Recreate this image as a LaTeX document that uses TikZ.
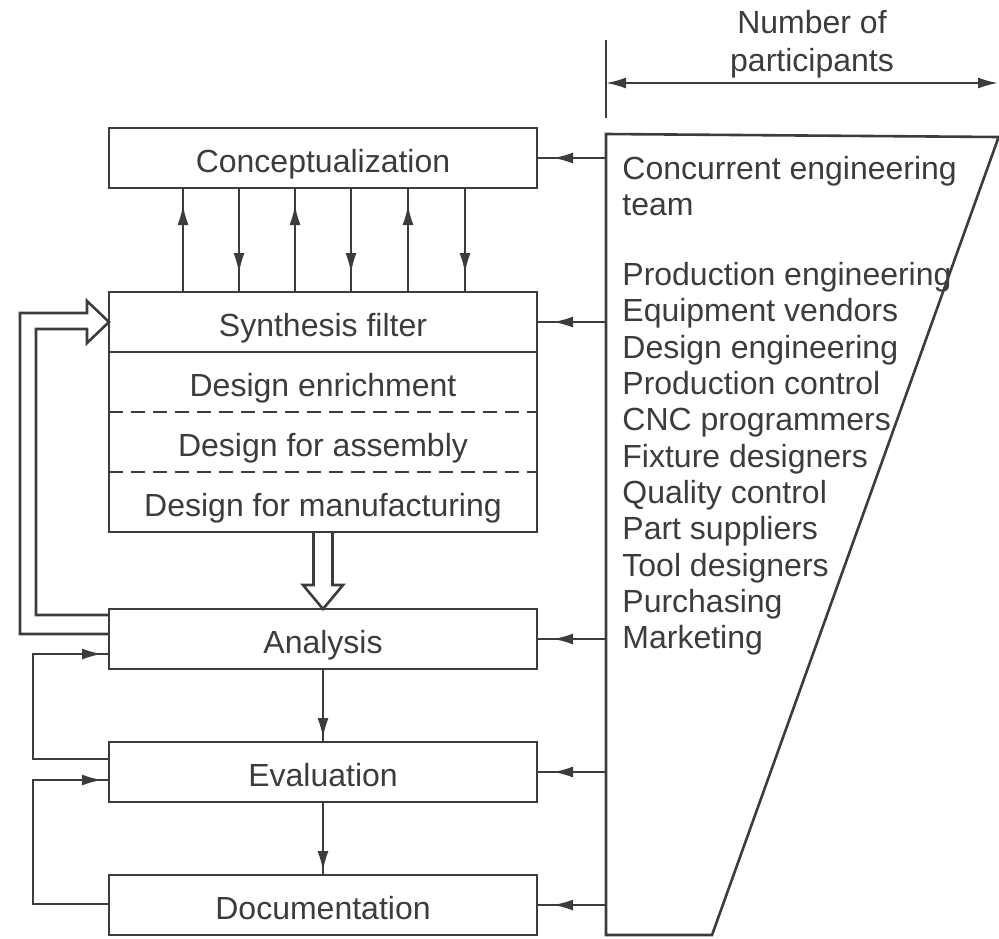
\documentclass[tikz,border=0pt]{standalone}
\usepackage{fontspec}
\setmainfont{Liberation Sans}
\usetikzlibrary{arrows.meta,positioning,calc,decorations.markings}
\definecolor{InkGray}{RGB}{60,60,60}

\begin{document}
\begin{tikzpicture}[x=0.5pt, y=-0.5pt,
    stage/.style={draw=InkGray, line width=1.3pt, minimum width=214pt, minimum height=30pt, inner sep=0pt, outer sep=0pt, text=InkGray, text height=15pt, text depth=1pt, font=\fontsize{16}{18}\selectfont},
    sub/.style={stage, draw=none},
    link/.style={InkGray, line width=1pt},
    headat/.style={link, postaction={decorate}, decoration={markings, mark=at position #1 with {\arrow{Latex[length=10pt,width=5.5pt]}}}},
    hollow/.style={draw=InkGray, line width=1.3pt, line join=miter},
    roster/.style={text=InkGray, font=\fontsize{16}{18.15}\selectfont, align=left, inner sep=0pt}
  ]
    \useasboundingbox (0,0) rectangle (999,938);

    % Process stages (left column)
    \node[stage] (concept) at (323,158) {Conceptualization};
    \node[stage, below=52pt of concept] (synth) {Synthesis filter};
    \node[sub, below=0pt of synth] (enrich) {Design enrichment};
    \node[sub, below=0pt of enrich] (assembly) {Design for assembly};
    \node[sub, below=0pt of assembly] (manuf) {Design for manufacturing};
    \draw[InkGray, line width=1.3pt] (synth.north west) rectangle (manuf.south east);
    \draw[InkGray, line width=1pt, dash pattern=on 7pt off 4pt] (enrich.south west) -- (enrich.south east);
    \draw[InkGray, line width=1pt, dash pattern=on 7pt off 4pt] (assembly.south west) -- (assembly.south east);
    \node[stage, below=38.5pt of manuf] (analysis) {Analysis};
    \node[stage, below=36.5pt of analysis] (evaluation) {Evaluation};
    \node[stage, below=36.5pt of evaluation] (documentation) {Documentation};

    % Iteration between conceptualization and synthesis
    \foreach \dx in {74,186,299}
      \draw[headat=-8.5pt] ($(synth.north west)+(\dx,0)$) -- ($(concept.south west)+(\dx,0)$);
    \foreach \dx in {130,242,356}
      \draw[headat=-9.5pt] ($(concept.south west)+(\dx,0)$) -- ($(synth.north west)+(\dx,0)$);

    % Hollow arrows
    \draw[hollow] ([xshift=-4.75pt]manuf.south) -- ++(0,53) -- ++(-10.5,0) -- (analysis.north)
      -- ++(20,-24) -- ++(-10.5,0) -- ([xshift=4.75pt]manuf.south);
    \draw[hollow] ($(analysis.west)+(0,-24)$) -- ++(-73,0) |- ($(synth.west)+(-22,7)$) -- ++(0,14)
      -- (synth.west) -- ++(-22,-21) -- ++(0,12) -| ($(analysis.west)+(-89,-5)$) -- ($(analysis.west)+(0,-5)$);

    % Flow down and feedback
    \draw[headat=-2pt] (analysis) -- (evaluation);
    \draw[headat=-2pt] (evaluation) -- (documentation);
    \draw[headat=-3.5pt] ($(evaluation.west)+(0,-13)$) -- ++(-76,0) |- ($(analysis.west)+(0,15)$);
    \draw[headat=-3.5pt] ($(documentation.west)+(0,-1)$) -- ++(-76,0) |- ($(evaluation.west)+(0,8)$);

    % Participants (right)
    \coordinate (edge) at (606,0);
    \coordinate (spanL) at (606,83);
    \coordinate (spanR) at (998,83);
    \draw[InkGray, line width=1.3pt] (606,40) -- (606,118);
    \draw[link, {Latex[length=10pt,width=5.5pt]}-{Latex[length=10pt,width=5.5pt]}] (spanL) -- (spanR);
    \node[roster, align=center, font=\fontsize{16}{19}\selectfont] (count) at (812,44) {Number of\\participants};
    \draw[InkGray, line width=1.3pt, line join=miter] (999,137) -- (606,134) -- (606,935) -- (712,935) -- (999,136);
    \foreach \n in {concept,synth,analysis,evaluation,documentation}
      \draw[headat=-8pt] (\n.east -| edge) -- (\n.east);
    \node[roster, anchor=north west] (team) at (622,156) {Concurrent engineering\\team};
    \node[roster, anchor=north west] (roles) at (622,262) {Production engineering\\Equipment vendors\\Design engineering\\Production control\\CNC programmers\\Fixture designers\\Quality control\\Part suppliers\\Tool designers\\Purchasing\\Marketing};
\end{tikzpicture}
\end{document}
